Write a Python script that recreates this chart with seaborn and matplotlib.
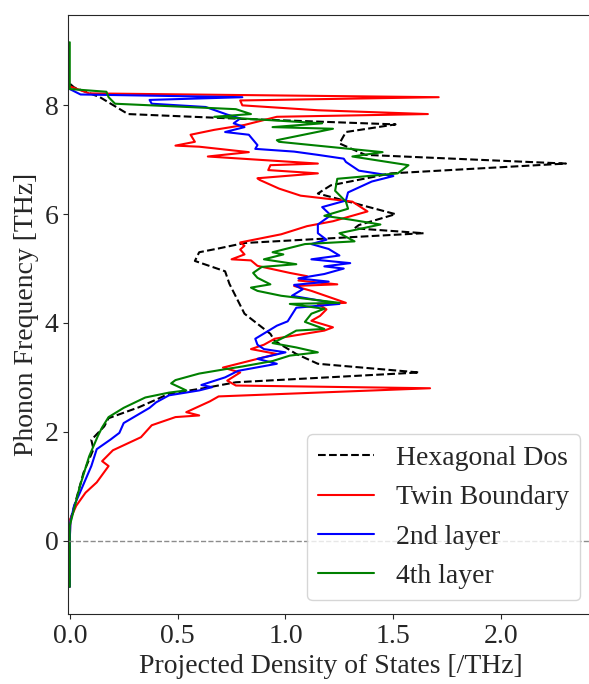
import matplotlib
matplotlib.use("Agg")
import matplotlib.pyplot as plt
import seaborn as sns
import pandas as pd

# frequency [THz] / projected DOS [/THz]
hex_freq = [-0.85, 0.0, 0.34, 0.76, 1.25, 1.68, 1.85, 2.1, 2.25, 2.45, 2.59, 2.7, 2.8, 2.91,
            3.09, 3.25, 3.43, 3.67, 3.8, 4.17, 4.72, 4.95, 5.14, 5.3, 5.37, 5.47, 5.65, 5.74,
            5.8, 6.0, 6.38, 6.53, 6.75, 6.93, 7.09, 7.3, 7.51, 7.65, 7.75, 7.84, 8.15, 8.33, 8.4]
hex_dos = [0.0, 0.0, 0.0, 0.03, 0.064, 0.11, 0.1, 0.16, 0.18, 0.32, 0.4, 0.46, 0.62, 0.77,
           1.62, 1.15, 1.05, 0.95, 0.93, 0.81, 0.74, 0.72, 0.58, 0.6, 0.69, 0.81, 1.64, 1.32,
           1.34, 1.51, 1.15, 1.21, 1.49, 2.30, 1.37, 1.25, 1.28, 1.51, 0.81, 0.27, 0.14, 0.02, 0.0]

tb_freq = [-0.85, 0.0, 0.4, 0.64, 0.88, 1.07, 1.37, 1.46, 1.66, 1.9, 2.12, 2.27, 2.3, 2.36,
           2.56, 2.65, 2.8, 2.85, 2.94, 3.09, 3.18, 3.34, 3.43, 3.52, 3.6, 3.71, 3.86, 3.92,
           4.04, 4.13, 4.25, 4.35, 4.37, 4.59, 4.68, 4.71, 4.78, 4.86, 4.92, 5.05, 5.15, 5.17,
           5.26, 5.35, 5.42, 5.48, 5.63, 5.78, 5.87, 6.05, 6.23, 6.34, 6.47, 6.63, 6.66, 6.75,
           6.81, 6.9, 6.93, 7.06, 7.14, 7.24, 7.26, 7.33, 7.46, 7.55, 7.64, 7.79, 7.84, 7.91,
           8.0, 8.09, 8.15, 8.22, 8.35]
tb_dos = [0.0, 0.0, 0.003, 0.03, 0.073, 0.125, 0.18, 0.15, 0.2, 0.33, 0.38, 0.49, 0.6, 0.54,
          0.65, 0.69, 1.67, 0.77, 0.73, 0.79, 0.71, 0.87, 0.96, 0.84, 0.9, 0.95, 1.18, 1.22,
          1.12, 1.16, 1.19, 1.15, 1.28, 1.12, 1.04, 1.24, 1.06, 1.10, 1.02, 0.87, 0.84, 0.75,
          0.81, 0.79, 0.81, 0.79, 0.98, 1.10, 1.22, 1.38, 1.31, 1.07, 0.97, 0.88, 0.87, 1.15,
          0.92, 0.93, 1.15, 0.64, 0.83, 0.6, 0.49, 0.58, 0.56, 0.67, 0.81, 0.96, 1.66, 1.15,
          0.8, 0.79, 1.71, 0.09, 0.0]

l2_freq = [-0.85, 0.0, 0.34, 0.64, 0.88, 1.37, 1.68, 1.86, 1.98, 2.16, 2.3, 2.44, 2.54, 2.67,
           2.76, 2.82, 2.86, 3.0, 3.12, 3.25, 3.34, 3.46, 3.52, 3.6, 3.71, 3.95, 4.03, 4.28,
           4.35, 4.5, 4.62, 4.7, 4.76, 4.82, 4.9, 5.0, 5.04, 5.1, 5.17, 5.24, 5.36, 5.45, 5.53,
           5.65, 5.81, 5.98, 6.13, 6.25, 6.4, 6.6, 6.7, 6.8, 6.96, 7.02, 7.09, 7.15, 7.2, 7.27,
           7.46, 7.51, 7.6, 7.67, 7.76, 7.83, 7.97, 8.03, 8.1, 8.15, 8.2, 8.3]
l2_dos = [0.0, 0.0, 0.003, 0.02, 0.047, 0.1, 0.125, 0.19, 0.23, 0.25, 0.31, 0.37, 0.40, 0.46,
          0.6, 0.66, 0.61, 0.72, 0.78, 0.96, 0.87, 1.0, 0.9, 0.87, 0.86, 0.96, 1.01, 1.05,
          1.25, 1.03, 1.08, 1.04, 1.2, 1.06, 1.18, 1.27, 1.18, 1.3, 1.12, 1.25, 1.2, 1.12, 1.19,
          1.15, 1.15, 1.21, 1.17, 1.28, 1.29, 1.40, 1.5, 1.34, 1.28, 1.27, 1.15, 1.04, 0.86, 0.87,
          0.83, 0.72, 0.81, 0.76, 0.79, 0.73, 0.63, 0.38, 0.37, 0.8, 0.05, 0.0]

l4_freq = [-0.85, 0.0, 0.27, 0.58, 1.0, 1.55, 1.92, 2.08, 2.27, 2.44, 2.63, 2.72, 2.76, 2.89,
           2.95, 3.07, 3.15, 3.2, 3.3, 3.4, 3.46, 3.55, 3.63, 3.75, 3.86, 3.89, 4.02, 4.17, 4.26,
           4.35, 4.37, 4.5, 4.59, 4.65, 4.71, 4.83, 4.92, 5.03, 5.08, 5.17, 5.26, 5.3, 5.45, 5.5,
           5.65, 5.81, 5.9, 5.97, 6.1, 6.23, 6.43, 6.65, 6.75, 6.9, 7.06, 7.14, 7.33, 7.36, 7.57,
           7.6, 7.67, 7.79, 7.84, 7.93, 8.03, 8.15, 8.25, 8.3, 9.16]
l4_dos = [0.0, 0.0, 0.0, 0.02, 0.047, 0.09, 0.13, 0.15, 0.18, 0.25, 0.35, 0.46, 0.54, 0.47,
          0.49, 0.6, 0.72, 0.8, 0.94, 1.02, 1.15, 1.05, 0.94, 1.0, 1.05, 1.18, 1.09, 1.12, 1.18,
          1.02, 1.25, 0.98, 0.87, 0.84, 0.93, 0.87, 0.85, 0.89, 1.05, 0.9, 0.99, 0.94, 1.09, 1.32,
          1.25, 1.44, 1.3, 1.18, 1.29, 1.28, 1.23, 1.24, 1.52, 1.57, 1.31, 1.45, 0.97, 0.96, 1.22,
          0.94, 1.17, 0.67, 0.84, 0.77, 0.21, 0.18, 0.17, 0.0, 0.0]

labels = ["Hexagonal Dos", "Twin Boundary", "2nd layer", "4th layer"]
colors = ["black", "red", "blue", "green"]

sns.set_style("ticks")
plt.rcParams["font.family"] = ["Liberation Serif", "DejaVu Serif"]
plt.rcParams["font.size"] = 20

fig = plt.figure(figsize=(5.89, 6.84), dpi=100)
ax = fig.add_axes([0.1155, 0.1023, 0.893, 0.8757])

series = [(hex_freq, hex_dos), (tb_freq, tb_dos), (l2_freq, l2_dos), (l4_freq, l4_dos)]
for (freq, dos), lab, col in zip(series, labels, colors):
    df = pd.DataFrame({"dos": dos, "freq": freq})
    sns.lineplot(data=df, x="dos", y="freq", sort=False, estimator=None, orient="y",
                 color=col, label=lab, linewidth=1.5,
                 linestyle="--" if lab == "Hexagonal Dos" else "-", ax=ax)

ax.axhline(0, color="gray", linestyle="--", linewidth=1, alpha=0.9)
ax.set_xlim(-0.008, 2.43)
ax.set_ylim(-1.35, 9.66)
ax.set_xticks([0.0, 0.5, 1.0, 1.5, 2.0])
ax.set_yticks([0, 2, 4, 6, 8])
ax.tick_params(labelsize=20)
ax.set_xlabel("Projected Density of States [/THz]", fontsize=20)
ax.set_ylabel("Phonon Frequency [THz]", fontsize=20)
ax.legend(loc="lower right", fontsize=20)

fig.savefig("out.png", dpi=100)
